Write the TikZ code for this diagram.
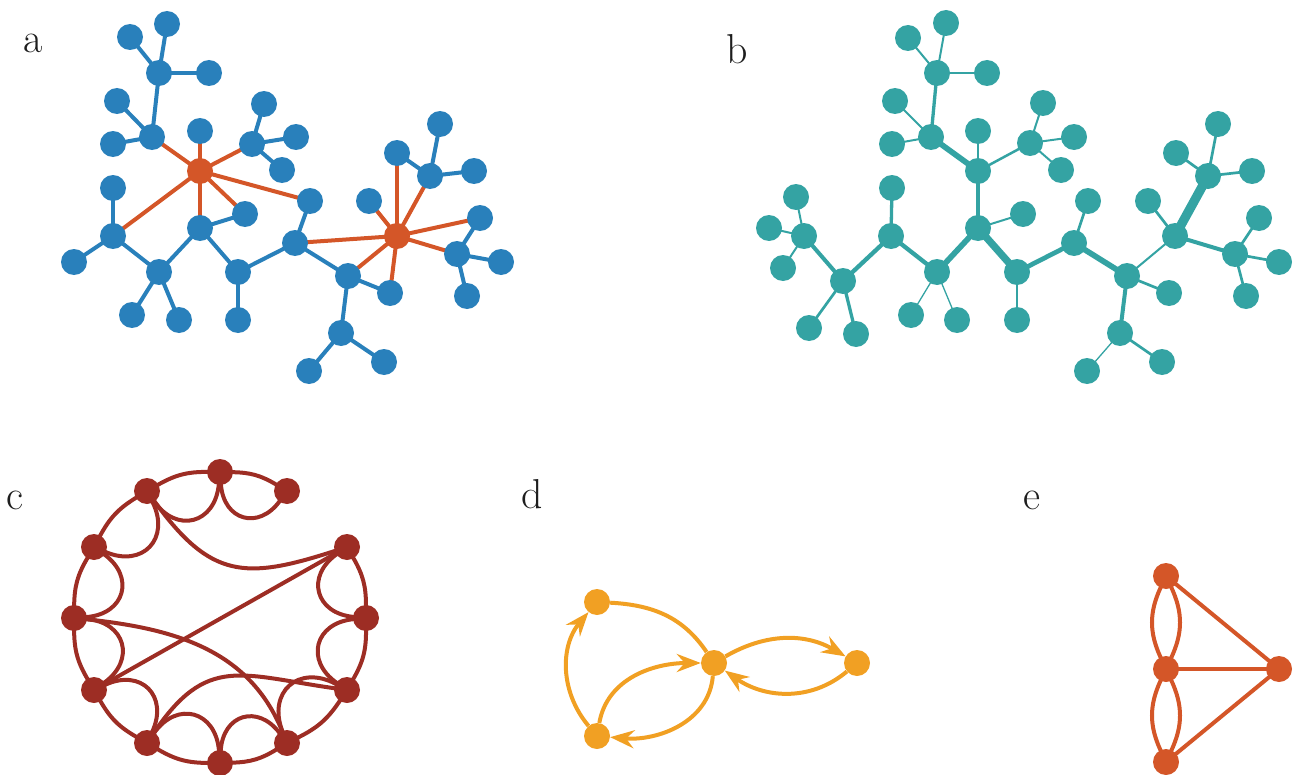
\documentclass[tikz,border=0pt]{standalone}
\usepackage{fontspec}
\usetikzlibrary{arrows.meta,backgrounds}
\definecolor{ablue}{RGB}{41,128,187}
\definecolor{aorange}{RGB}{212,86,40}
\definecolor{bteal}{RGB}{52,163,163}
\definecolor{cred}{RGB}{157,45,36}
\definecolor{dgold}{RGB}{241,160,35}
\definecolor{eorange}{RGB}{212,86,40}
\definecolor{lblcol}{RGB}{30,30,30}
\tikzset{
  dot/.style={circle, fill=#1, draw=none, inner sep=0pt, minimum size=26bp},
  lbl/.style={anchor=base, inner sep=0pt, text=lblcol, font=\fontsize{42}{48}\selectfont},
  ea/.style={draw=ablue, line width=4bp, shorten <=-3bp, shorten >=-3bp},
  eo/.style={draw=aorange, line width=4bp, shorten <=-3bp, shorten >=-3bp},
  tb/.style={draw=bteal, line width=#1, shorten <=-3bp, shorten >=-3bp},
  ce/.style={draw=cred, line width=4bp, shorten <=-1bp, shorten >=-1bp},
  dl/.style={draw=dgold, line width=4bp},
  de/.style={draw=dgold, line width=4bp, -{Stealth[length=24bp,width=18bp,inset=8bp]}},
  ee/.style={draw=eorange, line width=4bp, shorten <=-1bp, shorten >=-1bp}
}
\begin{document}
\begin{tikzpicture}[x=1bp,y=1bp]
\path[use as bounding box] (0,0) rectangle (1296,-775);

% labels
\node[lbl] (la) at (33,-53) {a};
\node[lbl] (lb) at (737,-64) {b};
\node[lbl] (lc) at (15,-509) {c};
\node[lbl] (ld) at (532,-508) {d};
\node[lbl] (le) at (1032,-509) {e};

% ---------------- panel a ----------------
\foreach \n/\x/\y in {a1/167/24, a2/130/37, a3/159/73, a4/209/73, a5/117/101, a6/152/137,
  a7/113/144, a8/200/131, a9/264/104, a10/252/144, a11/296/137, a12/282/170, a13/113/188,
  a14/113/236, a15/74/262, a16/200/228, a17/245/214, a18/159/272, a19/132/315, a20/179/320,
  a21/238/272, a22/238/320, a23/310/201, a24/295/243, a26/369/201, a27/397/153, a28/430/176,
  a29/440/124, a30/474/171, a31/480/218, a32/457/254, a33/501/262, a34/467/296, a35/348/276,
  a36/390/293, a37/341/333, a25/309/371, a39/384/362}
  \node[dot=ablue] (\n) at (\x,-\y) {};
\node[dot=aorange] (ao1) at (200,-171) {};
\node[dot=aorange] (ao2) at (397,-236) {};
\begin{pgfonlayer}{background}
\foreach \u/\v in {a1/a3, a2/a3, a3/a4, a3/a6, a5/a6, a7/a6, a9/a10, a11/a10, a12/a10,
  a13/a14, a14/a15, a14/a18, a18/a19, a18/a20, a18/a16, a16/a17, a16/a21, a21/a22, a21/a24,
  a24/a23, a24/a35, a35/a36, a35/a37, a37/a25, a37/a39, a27/a28, a28/a29, a28/a30,
  a31/a32, a32/a33, a32/a34}
  \draw[ea] (\u) -- (\v);
\foreach \v in {a6, a8, a10, a23, a17, a16, a14}
  \draw[eo] (ao1) -- (\v);
\foreach \v in {a24, a26, a27, a28, a31, a32, a36, a35}
  \draw[eo] (ao2) -- (\v);
\end{pgfonlayer}

% ---------------- panel b ----------------
\foreach \n/\x/\y in {b1/946/23, b2/908/38, b3/937/73, b4/987/73, b5/895/101, b6/931/137,
  b7/892/144, b8/978/131, b9/978/171, b10/1030/143, b27/1043/103, b28/1074/137, b29/1061/170,
  b11/796/197, b12/769/228, b13/804/236, b14/783/268, b15/892/188, b16/891/236, b17/843/281,
  b18/809/328, b19/856/334, b20/937/272, b21/911/315, b22/957/320, b23/978/228, b24/1023/214,
  b25/1017/272, b26/1017/320, b31/1088/201, b32/1074/243, b33/1127/276, b34/1169/293,
  b35/1120/333, b36/1087/371, b37/1162/362, b38/1175/236, b39/1148/201, b40/1208/176,
  b41/1176/153, b42/1218/124, b43/1252/171, b44/1235/254, b45/1259/218, b46/1279/262,
  b47/1246/296}
  \node[dot=bteal] (\n) at (\x,-\y) {};
\begin{pgfonlayer}{background}
\foreach \u/\v/\w in {b3/b1/2, b3/b2/2, b3/b4/2, b3/b6/3.3, b6/b5/2, b6/b7/2, b6/b9/5.7,
  b9/b8/2.7, b9/b10/2.5, b9/b23/3.3, b10/b27/2, b10/b28/2, b10/b29/2, b23/b24/2, b23/b20/5.7,
  b23/b25/7.3, b13/b11/2, b13/b12/2, b13/b14/2, b13/b17/4, b17/b18/2.7, b17/b19/3.3,
  b17/b16/4.3, b16/b15/3.3, b16/b20/4.3, b20/b21/1.3, b20/b22/1.3, b25/b26/2.7, b25/b32/4.7,
  b32/b31/2.7, b32/b33/5.7, b33/b34/2.7, b33/b35/4, b33/b38/2, b35/b36/1.3, b35/b37/2.7,
  b38/b39/2.7, b38/b40/9.3, b38/b44/4, b40/b41/2.7, b40/b42/2.7, b40/b43/2.7, b44/b45/2.7,
  b44/b46/2.7, b44/b47/2.7}
  \draw[tb=\w bp] (\u) -- (\v);
\end{pgfonlayer}

% ---------------- panel c ----------------
\foreach \n/\x/\y in {c1/147/491, c2/220/472, c3/287/491, c4/94/547, c5/347/547, c6/74/618,
  c7/366/618, c8/94/690, c9/347/690, c10/147/743, c11/220/763, c12/287/743}
  \node[dot=cred] (\n) at (\x,-\y) {};
\begin{pgfonlayer}{background}
\foreach \u/\v in {c1/c2, c2/c3, c4/c1, c6/c4, c8/c6, c10/c8, c11/c10, c12/c11, c9/c12,
  c7/c9, c5/c7} {
  \draw[ce] (\u) to[bend left=15] (\v);
  \draw[ce] (\u) to[bend right=70, looseness=1.5] (\v);
}
\draw[ce] (c1) to[out=-54, in=198, looseness=1.3] (c5);
\draw[ce] (c5) -- (c8);
\draw[ce] (c6) to[out=-6, in=112] (c12);
\draw[ce] (c10) to[out=56, in=172, looseness=1.3] (c9);
\end{pgfonlayer}

% ---------------- panel d ----------------
\node[dot=dgold] (d1) at (597,-602) {};
\node[dot=dgold] (d2) at (714,-663) {};
\node[dot=dgold] (d3) at (857,-663) {};
\node[dot=dgold] (d4) at (597,-736) {};
\draw[de] (d4) to[bend left=40] (d1);
\draw[de] (d4) to[out=80, in=180] (d2);
\draw[de] (d2) to[out=-95, in=-5] (d4);
\draw[dl] (d1) to[out=-3, in=124] (d2);
\draw[de] (d2) to[out=30, in=150] (d3);
\draw[de] (d3) to[out=-140, in=-35] (d2);

% ---------------- panel e ----------------
\node[dot=eorange] (e1) at (1166,-576) {};
\node[dot=eorange] (e2) at (1166,-669) {};
\node[dot=eorange] (e3) at (1279,-669) {};
\node[dot=eorange] (e4) at (1166,-762) {};
\begin{pgfonlayer}{background}
\draw[ee] (e1) to[bend left=25] (e2);
\draw[ee] (e1) to[bend right=25] (e2);
\draw[ee] (e2) to[bend left=25] (e4);
\draw[ee] (e2) to[bend right=25] (e4);
\draw[ee] (e1) -- (e3);
\draw[ee] (e2) -- (e3);
\draw[ee] (e4) -- (e3);
\end{pgfonlayer}
\end{tikzpicture}
\end{document}
